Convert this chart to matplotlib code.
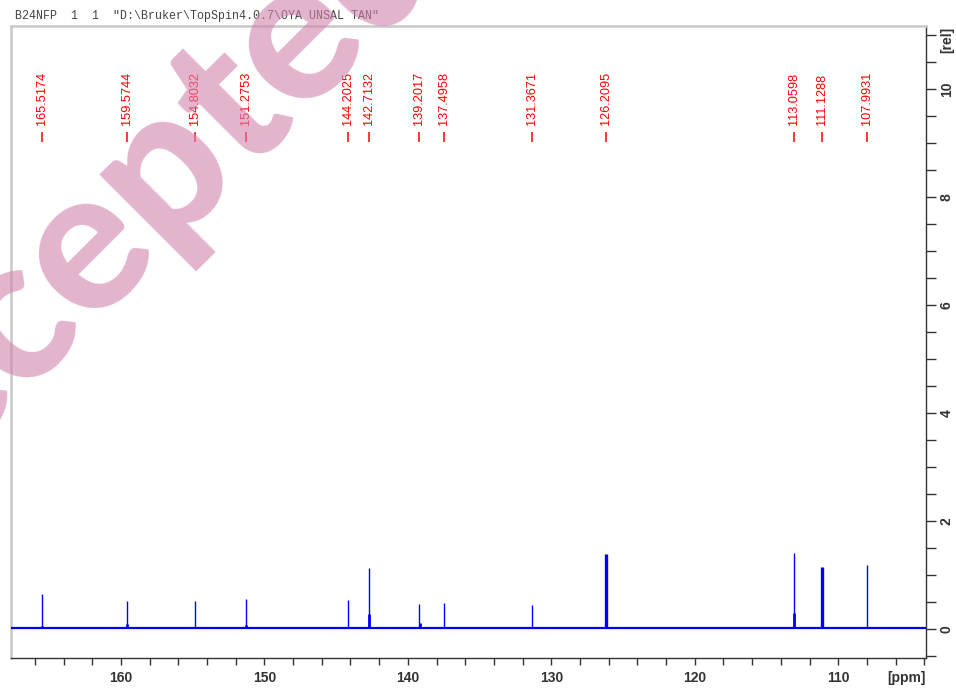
import matplotlib
matplotlib.use("Agg")
import matplotlib.pyplot as plt
import matplotlib.transforms as mtransforms

# ---- data ----
peak_ppm = [165.5174, 159.5744, 154.8032, 151.2753, 144.2025, 142.7132,
            139.2017, 137.4958, 131.3671, 126.2095, 113.0598, 111.1288, 107.9931]
peak_height = [0.66, 0.52, 0.52, 0.56, 0.54, 1.13,
               0.47, 0.49, 0.45, 1.39, 1.41, 1.16, 1.20]
peak_width = [1.0, 1.0, 1.0, 1.0, 1.0, 1.0, 1.0, 1.0, 1.0, 2.4, 1.0, 2.4, 1.0]
shoulder_ppm = [142.74, 113.09, 139.18, 159.58, 151.29, 165.53]
shoulder_height = [0.29, 0.30, 0.12, 0.10, 0.09, 0.06]
baseline = 0.03
peak_labels = ["165.5174", "159.5744", "154.8032", "151.2753", "144.2025", "142.7132",
               "139.2017", "137.4958", "131.3671", "126.2095", "113.0598", "111.1288", "107.9931"]
x_major = [160, 150, 140, 130, 120, 110]
y_major = [0, 2, 4, 6, 8, 10]
title = 'B24NFP  1  1  "D:\\Bruker\\TopSpin4.0.7\\OYA UNSAL TAN"'

W, H = 956, 689
fig = plt.figure(figsize=(W / 100, H / 100), dpi=100)
ax = fig.add_axes([11 / W, 1 - 658 / H, (926 - 11) / W, (658 - 26) / H])

xmin, xmax = 103.88, 167.66
ax.set_xlim(xmax, xmin)
ax.set_ylim(-0.53, 11.17)

blue = "#0000ff"
ax.plot([xmax, xmin], [baseline, baseline], color=blue, lw=1.6, zorder=3)
ax.vlines(shoulder_ppm, baseline, shoulder_height, colors=blue, lw=2.0, zorder=3)
for p, h, w in zip(peak_ppm, peak_height, peak_width):
    ax.vlines(p, baseline, h, colors=blue, lw=w, zorder=3)

# peak labels
trans = mtransforms.blended_transform_factory(ax.transData, ax.transAxes)
for p, lab in zip(peak_ppm, peak_labels):
    ax.text(p, 0.8439, lab, rotation=90, ha="center", va="bottom", color="red",
            fontsize=9.2, family="Liberation Sans", transform=trans)
    ax.plot([p, p], [0.8165, 0.8328], color="red", lw=1.1, transform=trans,
            solid_capstyle="butt")

# axes styling
ax.spines["left"].set_color("#c8c8c8")
ax.spines["top"].set_color("#c8c8c8")
ax.spines["left"].set_linewidth(1.8)
ax.spines["top"].set_linewidth(1.8)
ax.spines["right"].set_color("#333333")
ax.spines["bottom"].set_color("#333333")
ax.spines["right"].set_linewidth(1.0)
ax.spines["bottom"].set_linewidth(1.0)

ax.xaxis.set_ticks_position("bottom")
ax.set_xticks(x_major)
ax.set_xticks([v for v in range(104, 168, 2) if v % 10 != 0], minor=True)
ax.tick_params(axis="x", which="both", direction="out", length=5, width=1, color="#333333",
               labelsize=10, pad=4)
for t in ax.get_xticklabels():
    t.set_fontweight("bold")
    t.set_family("Liberation Sans")
    t.set_color("#333333")

ax.yaxis.set_ticks_position("right")
ax.set_yticks(y_major)
ax.set_yticks([v * 0.5 for v in range(-1, 23) if (v * 0.5) % 2 != 0], minor=True)
ax.tick_params(axis="y", which="both", direction="out", length=7, width=1, color="#333333",
               labelsize=10, pad=3, labelrotation=90)
for t in ax.get_yticklabels():
    t.set_fontweight("bold")
    t.set_family("Liberation Sans")
    t.set_color("#333333")
    t.set_va("center")

fig.text(947 / W, 1 - 40 / H, "[rel]", rotation=90, ha="center", va="center",
         fontsize=10, fontweight="bold", family="Liberation Sans", color="#333333")
fig.text(906 / W, 1 - 678 / H, "[ppm]", ha="center", va="center",
         fontsize=10, fontweight="bold", family="Liberation Sans", color="#333333")
fig.text(15 / W, 1 - 16 / H, title, ha="left", va="center", fontsize=8.4,
         family="Liberation Mono", color="#444444")

# watermark
fig.text(115 / W, 1 - 226 / H, "Accepted", rotation=45, rotation_mode="anchor",
         ha="center", va="center", fontsize=144, family="Lato", fontweight="black",
         color=(0.82, 0.51, 0.67), alpha=0.6, zorder=10)

fig.savefig("out.png", dpi=100)
